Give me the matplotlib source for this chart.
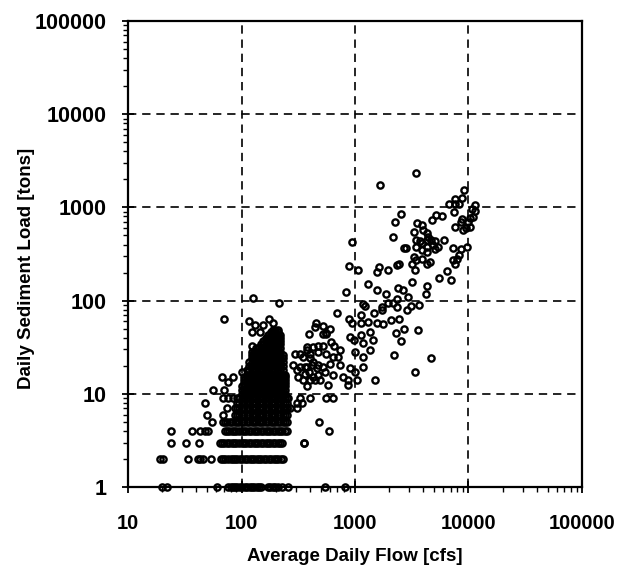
import matplotlib
matplotlib.use("Agg")
import matplotlib.pyplot as plt
from matplotlib.ticker import LogLocator, NullFormatter

plt.rcParams['font.family'] = ['Liberation Sans', 'DejaVu Sans']

# Individual days: average daily flow [cfs] and daily sediment load [tons]
flow_pts = [
    3450, 1670, 9100, 8770, 7600, 6750, 7650, 8240, 7430, 11500, 10700, 11500, 11000,
    10300, 8700, 8650, 9000, 9500, 10300, 7550, 9950, 2560, 2260, 2140, 5200, 5900, 4800,
    3550, 3900, 3330, 4000, 4350, 3460, 3760, 4270, 4700, 5070, 6080, 3480, 3930, 4350,
    5070, 2830, 2680, 7330, 8650, 9700, 4900, 4270, 4430, 3880, 5420, 3330, 3480, 3930,
    4580, 4270, 7900, 7600, 8300, 7330, 950, 880, 1070, 1620, 1570, 1960, 2330, 2420,
    3160, 3380, 6430, 6960, 5530, 3160, 4350, 4200, 830, 1300, 1570, 1880, 2400, 2650,
    2940, 1180, 1220, 1720, 1960, 2170, 2360, 2360, 3100, 3680, 2860, 700, 1130, 1460,
    1720, 890, 940, 1140, 1310, 1550, 1750, 2060, 2420, 1350, 1140, 900, 970, 1440, 2280,
    2700, 3600, 2550, 1180, 1360, 1000, 1180, 2200, 4650, 900, 1000, 1180, 1040, 1500,
    3400, 870,
    450, 520, 600, 390, 560, 470, 375, 620, 650, 740, 560, 640, 710, 400, 350, 430, 600,
    740, 375, 470, 540, 640, 790, 870, 362, 430, 490, 580, 350, 400, 400, 550, 640, 340,
    480, 355, 444, 560, 296, 327, 375, 425, 470, 400, 285, 310, 327, 362, 390, 415, 460,
    315, 444, 470, 520, 375, 520, 520,
    125, 212, 70, 117, 132, 155, 174, 190, 123, 146, 123, 123, 100, 67, 76, 84, 56, 70,
    69, 76, 84, 74, 48, 50, 55, 69, 218, 255, 267, 310, 327, 250, 310,
]
load_pts = [
    2350, 1725, 1550, 1270, 1230, 1090, 1090, 1100, 900, 1050, 960, 920, 790,
    770, 760, 700, 570, 595, 620, 620, 697, 850, 700, 480, 830, 810, 727,
    680, 643, 545, 568, 530, 444, 435, 444, 450, 435, 450, 375, 347, 335,
    360, 365, 365, 365, 355, 375, 393, 380, 482, 420, 375, 295, 271, 283,
    260, 250, 283, 245, 307, 271, 425, 235, 212, 228, 205, 212, 240, 245,
    250, 212, 208, 168, 173, 160, 143, 117, 124, 150, 131, 117, 136, 129,
    109, 93, 87, 85, 94, 94, 105, 85, 87, 89, 79, 74, 70, 73,
    79, 64, 57, 57, 59, 57, 56, 62, 64, 46, 42.6, 41, 37.6, 37.6, 45,
    50, 49, 37, 35, 29.4, 28, 24.6, 26, 24, 18.7, 17.2, 19.4, 14, 14.2,
    17.3, 12.4,
    57, 53, 50, 44, 45, 33, 31.5, 36, 33, 29.4, 27, 25, 25, 27, 25, 22, 21,
    20.3, 19.5, 20.3, 17.2, 15.9, 15.2, 14, 16.5, 15.2, 14, 12.4, 14, 14, 9, 9, 9, 8,
    5, 3, 52, 44, 27, 27, 29.4, 32, 28, 24, 20.3, 18, 19.5, 19.5, 17.2, 20.3, 18.7,
    15.2, 14, 15.9, 19.5, 12, 44, 33,
    107, 94, 64, 60, 54.5, 54.5, 63, 58, 46, 46, 33, 28, 17.2, 15.2, 13.4, 15.2, 11, 11,
    9, 9, 9, 7, 8, 6, 5, 6, 9, 9, 7, 8, 9, 7, 7,
]

# Days with loads of 1 to 4 tons (horizontal bands at the bottom)
flows_load1 = [19.8, 22, 61, 76, 80, 84, 88, 92, 97, 102, 107, 112, 118, 124, 130,
               136, 143, 150, 172, 180, 189, 198, 208, 226, 256, 544, 817]
flows_load2 = [19, 20.5, 33.6, 41.4, 43.5, 45.8, 53.5, 66, 69, 72, 76, 80, 84, 88, 92,
               97, 102, 107, 112, 118, 124, 130, 136, 143, 150, 158, 166, 174, 183,
               192, 201, 211, 222, 232]
flows_load3 = [23.9, 32.4, 42.2, 64, 67, 70, 74, 78, 82, 86, 90, 95, 100, 105, 110,
               116, 122, 128, 134, 141, 148, 155, 163, 171, 180, 189, 198, 208, 218,
               228, 355]
flows_load4 = [23.9, 36.4, 43, 47.7, 50.6, 71, 74, 78, 82, 86, 90, 95, 100, 105, 110,
               116, 122, 128, 134, 141, 148, 155, 163, 171, 180, 189, 198, 208, 218,
               229, 240, 252, 590]

# Dense low-flow cluster: flows observed at each load level
cluster_loads = [5, 6, 7, 8, 9, 10, 11, 12, 13, 14, 15, 16, 18, 20, 22, 24, 26, 28,
                 31, 34, 37, 40, 43, 46, 49]
cluster_flows = [
    [68, 71, 75, 79, 83, 87, 91, 96, 101, 106, 111, 117, 123, 129, 135, 142, 149, 156, 164, 172, 181, 190, 199, 209, 219, 230, 241, 252],
    [87, 91, 96, 101, 106, 111, 117, 123, 129, 135, 142, 149, 156, 164, 172, 181, 190, 199, 209, 219, 230, 241, 252],
    [87, 91, 96, 101, 106, 111, 117, 123, 129, 135, 142, 149, 156, 164, 172, 181, 190, 199, 209, 219, 230, 241, 252],
    [91, 96, 101, 106, 111, 117, 123, 129, 135, 142, 149, 156, 164, 172, 181, 190, 199, 209, 219, 230, 241, 252],
    [91, 96, 101, 106, 111, 117, 123, 129, 135, 142, 149, 156, 164, 172, 181, 190, 199, 209, 219, 230, 241, 252],
    [101, 106, 111, 117, 123, 129, 135, 142, 149, 156, 164, 172, 181, 190, 199, 209, 219, 230, 241],
    [101, 106, 111, 117, 123, 129, 135, 142, 149, 156, 164, 172, 181, 190, 199, 209, 219, 230, 241],
    [101, 106, 111, 117, 123, 129, 135, 142, 149, 156, 164, 172, 181, 190, 199, 209, 219, 230, 241],
    [106, 111, 117, 123, 129, 135, 142, 149, 156, 164, 172, 181, 190, 199, 209, 219, 230, 241],
    [106, 111, 117, 123, 129, 135, 142, 149, 156, 164, 172, 181, 190, 199, 209, 219, 230, 241],
    [106, 111, 117, 123, 129, 135, 142, 149, 156, 164, 172, 181, 190, 199, 209, 219, 230, 241],
    [111, 117, 123, 129, 135, 142, 149, 156, 164, 172, 181, 190, 199, 209, 219, 230, 241],
    [111, 117, 123, 129, 135, 142, 149, 156, 164, 172, 181, 190, 199, 209, 219, 230],
    [117, 123, 129, 135, 142, 149, 156, 164, 172, 181, 190, 199, 209, 219, 230],
    [117, 123, 129, 135, 142, 149, 156, 164, 172, 181, 190, 199, 209, 219, 230],
    [123, 129, 135, 142, 149, 156, 164, 172, 181, 190, 199, 209, 219, 230],
    [123, 129, 135, 142, 149, 156, 164, 172, 181, 190, 199, 209, 219, 230],
    [129, 135, 142, 149, 156, 164, 172, 181, 190, 199, 209, 219],
    [135, 142, 149, 156, 164, 172, 181, 190, 199, 209, 219],
    [149, 156, 164, 172, 181, 190, 199, 209, 219],
    [156, 164, 172, 181, 190, 199, 209, 219],
    [164, 172, 181, 190, 199, 209, 219],
    [172, 181, 190, 199, 209, 219],
    [181, 190, 199, 209],
    [190, 199, 209],
]

x_ticks = [10, 100, 1000, 10000, 100000]
y_ticks = [1, 10, 100, 1000, 10000, 100000]
x_tick_labels = ['10', '100', '1000', '10000', '100000']
y_tick_labels = ['1', '10', '100', '1000', '10000', '100000']

fig = plt.figure(figsize=(6.26, 5.75), dpi=100)
ax = fig.add_axes([0.2045, 0.153, 0.7252, 0.8104])

marker_style = dict(ls='none', marker='o', ms=4.5, mfc='none', mec='black',
                    mew=1.7, clip_on=False, zorder=3)

ax.plot(flow_pts, load_pts, **marker_style)
for load, flows in ((1, flows_load1), (2, flows_load2), (3, flows_load3), (4, flows_load4)):
    ax.plot(flows, [load] * len(flows), **marker_style)
for load, flows in zip(cluster_loads, cluster_flows):
    ax.plot(flows, [load] * len(flows), **marker_style)

ax.set_xscale('log')
ax.set_yscale('log')
ax.set_xlim(10, 100000)
ax.set_ylim(1, 100000)

ax.set_xticks(x_ticks, x_tick_labels)
ax.set_yticks(y_ticks, y_tick_labels)
ax.xaxis.set_minor_locator(LogLocator(base=10, subs=range(2, 10)))
ax.yaxis.set_minor_locator(LogLocator(base=10, subs=range(2, 10)))
ax.xaxis.set_minor_formatter(NullFormatter())
ax.yaxis.set_minor_formatter(NullFormatter())

ax.tick_params(which='major', direction='inout', length=9, width=1.3,
               top=False, right=False)
ax.tick_params(axis='x', which='major', pad=15, labelsize=14.5)
ax.tick_params(axis='y', which='major', pad=11, labelsize=15.5)
ax.tick_params(which='minor', direction='out', length=3.5, width=1.0,
               top=False, right=False)
for lbl in ax.get_xticklabels() + ax.get_yticklabels():
    lbl.set_fontweight('bold')

ax.grid(True, which='major', color='black', linestyle=(0, (5, 3.5)), linewidth=1.2)
ax.set_axisbelow(True)
for side in ax.spines.values():
    side.set_linewidth(1.6)
    side.set_color('black')

ax.set_xlabel('Average Daily Flow [cfs]', fontsize=13.5, fontweight='bold', labelpad=11)
ax.set_ylabel('Daily Sediment Load [tons]', fontsize=13.5, fontweight='bold')
ax.yaxis.set_label_coords(-0.205, 0.47)

fig.savefig('out.png', dpi=100)
